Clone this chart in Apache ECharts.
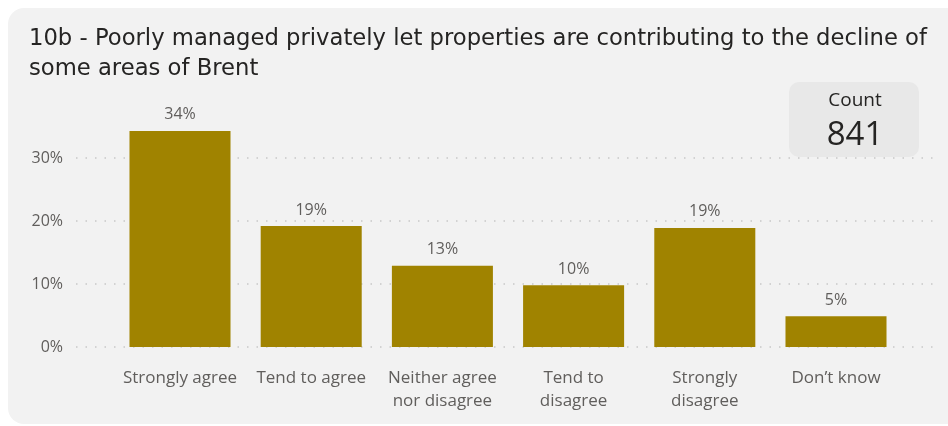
<!DOCTYPE html>
<html>
<head>
<meta charset="utf-8">
<script src="https://cdn.jsdelivr.net/npm/echarts@6/dist/echarts.min.js"></script>
<style>
html,body{margin:0;padding:0;background:#ffffff;}
#chart{width:948px;height:426px;}
</style>
</head>
<body>
<div id="chart"></div>
<script>
const titleText = '10b - Poorly managed privately let properties are contributing to the decline of\nsome areas of Brent';
const categories = ['Strongly agree', 'Tend to agree', 'Neither agree\nnor disagree', 'Tend to\ndisagree', 'Strongly\ndisagree', 'Don\u2019t know'];
const values = [34.3, 19.2, 12.9, 9.8, 18.9, 4.9];
const countLabel = 'Count';
const countValue = '841';

const chart = echarts.init(document.getElementById('chart'), null, {renderer: 'canvas'});
const gray = '#605e5c';
const font = 'Open Sans';

const option = {
  animation: false,
  backgroundColor: '#ffffff',
  graphic: [
    {type: 'rect', left: 8, top: 8, shape: {width: 960, height: 416, r: 16}, style: {fill: '#f2f2f2'}, z: -10},
    {type: 'rect', left: 789, top: 82, shape: {width: 130, height: 75, r: 10}, style: {fill: '#e8e8e8'}, z: -5},
    {type: 'text', x: 855, y: 91, style: {text: countLabel, align: 'center', verticalAlign: 'top', fill: '#252423', font: '19px "Open Sans"'}},
    {type: 'text', x: 855, y: 119, style: {text: countValue, align: 'center', verticalAlign: 'top', fill: '#252423', font: '33px "Open Sans"'}}
  ],
  title: {
    text: titleText,
    left: 24, top: 19,
    textStyle: {fontFamily: 'DejaVu Sans', fontSize: 22.7, fontWeight: 'normal', color: '#252423', lineHeight: 30}
  },
  grid: [
    {left: 76, right: 8, top: 158, bottom: 79},
    {left: 114.4, right: 46.4, top: 95, bottom: 79}
  ],
  xAxis: [
    {gridIndex: 0, type: 'value', min: 0, max: 1, show: false},
    {gridIndex: 1, type: 'category', data: categories,
     axisLine: {show: false}, axisTick: {show: false},
     axisLabel: {color: gray, fontFamily: font, fontSize: 17, lineHeight: 23, margin: 20, interval: 0}}
  ],
  yAxis: [
    {gridIndex: 0, type: 'value', min: 0, max: 30, interval: 10,
     axisLine: {show: false}, axisTick: {show: false},
     axisLabel: {color: gray, fontFamily: font, fontSize: 16, margin: 13, formatter: v => v + '%'},
     splitLine: {show: true, lineStyle: {type: [1.5, 8], color: '#c8c8c8', width: 1.5}}},
    {gridIndex: 1, type: 'value', min: 0, max: 40, show: false, splitLine: {show: false}}
  ],
  series: [{
    type: 'bar',
    xAxisIndex: 1, yAxisIndex: 1,
    data: values,
    barCategoryGap: '23%',
    itemStyle: {color: '#a08300'},
    label: {show: true, position: 'top', distance: 8, color: gray, fontFamily: font, fontSize: 16,
            formatter: p => Math.round(p.value) + '%'}
  }]
};
chart.setOption(option);
</script>
</body>
</html>
